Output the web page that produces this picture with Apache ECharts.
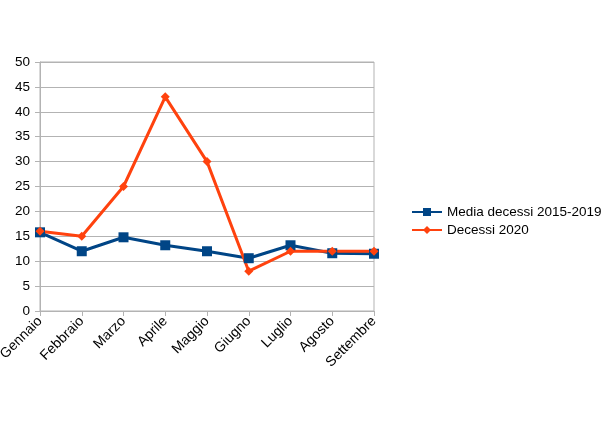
<!DOCTYPE html>
<html><head><meta charset="utf-8">
<script src="https://cdn.jsdelivr.net/npm/echarts@6/dist/echarts.min.js"></script>
<style>html,body{margin:0;padding:0;background:#fff}#c{width:610px;height:431px}</style>
</head><body><div id="c"></div>
<script>
var categories = ['Gennaio','Febbraio','Marzo','Aprile','Maggio','Giugno','Luglio','Agosto','Settembre'];
var mediaDecessi = [15.8, 12.0, 14.8, 13.2, 12.0, 10.6, 13.2, 11.6, 11.5];
var decessi2020 = [16, 15, 25, 43, 30, 8, 12, 12, 12];
var seriesNames = ['Media decessi 2015-2019', 'Decessi 2020'];
var chart = echarts.init(document.getElementById('c'), null, {renderer:'canvas'});
var font = 'Liberation Sans';
chart.setOption({
  animation: false,
  backgroundColor: '#fff',
  grid: {left: 40, right: 236, top: 62, bottom: 120, outerBoundsMode: 'none', containLabel: false, show: true, borderColor: '#b3b3b3', borderWidth: 1, backgroundColor: 'transparent'},
  legend: {
    orient: 'vertical', left: 406, top: 200, itemWidth: 30, itemHeight: 10, itemGap: 4,
    textStyle: {fontFamily: font, fontSize: 13.5, color: '#000'},
    data: seriesNames
  },
  xAxis: {
    type: 'category', data: categories, boundaryGap: false,
    axisLine: {lineStyle: {color: '#b3b3b3'}},
    axisTick: {show: true, length: 5, lineStyle: {color: '#b3b3b3'}},
    axisLabel: {rotate: 45, fontFamily: font, fontSize: 14, color: '#000', margin: 8, interval: 0}
  },
  yAxis: {
    type: 'value', min: 0, max: 50, interval: 5,
    axisLine: {show: true, lineStyle: {color: '#b3b3b3'}},
    axisTick: {show: true, length: 5, lineStyle: {color: '#b3b3b3'}},
    splitLine: {lineStyle: {color: '#b3b3b3'}},
    axisLabel: {fontFamily: font, fontSize: 13.5, color: '#000', margin: 10}
  },
  series: [
    {name: seriesNames[0], type: 'line', data: mediaDecessi, symbol: 'rect', symbolSize: 10,
     lineStyle: {color: '#004586', width: 3}, itemStyle: {color: '#004586'}},
    {name: seriesNames[1], type: 'line', data: decessi2020, symbol: 'diamond', symbolSize: 9,
     lineStyle: {color: '#ff420e', width: 3}, itemStyle: {color: '#ff420e'}}
  ]
});
</script></body></html>
